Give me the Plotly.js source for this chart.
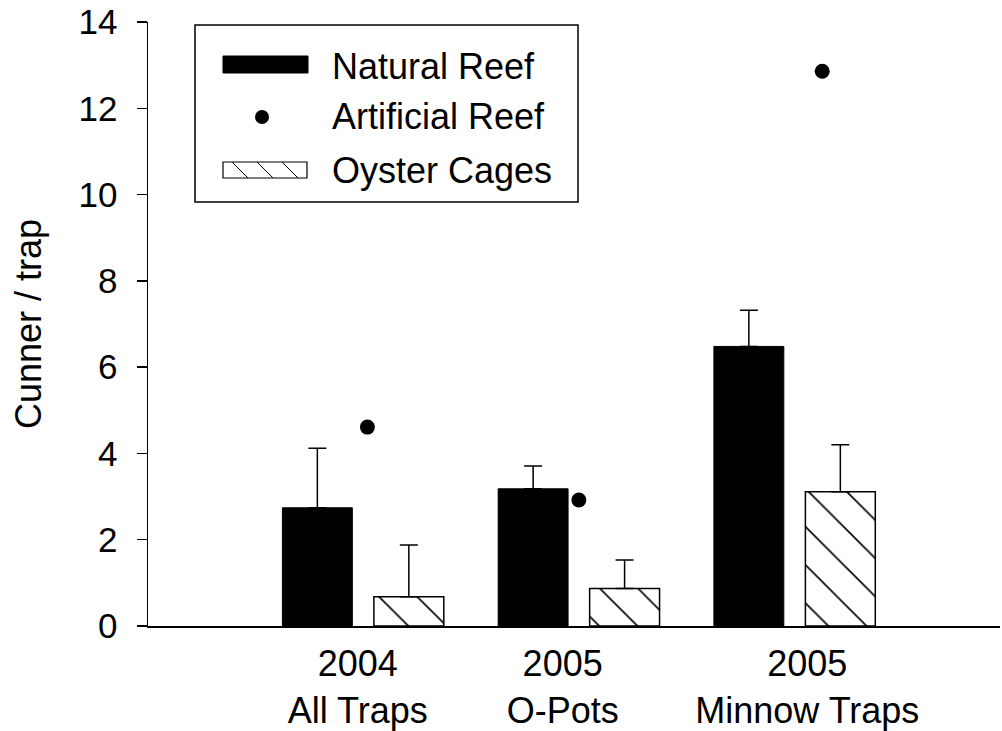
<!DOCTYPE html>
<html>
<head>
<meta charset="utf-8">
<script src="https://cdn.plot.ly/plotly-3.0.1.min.js"></script>
<style>html,body{margin:0;padding:0;background:#fff;}#chart{width:1002px;height:731px;}</style>
</head>
<body>
<div id="chart"></div>
<script>
// ---- data ----
var categories = ["2004<br>All Traps", "2005<br>O-Pots", "2005<br>Minnow Traps"];
var groupIndex = [0, 1, 2];
var naturalReef = [2.74, 3.18, 6.48];
var naturalReefErr = [1.38, 0.53, 0.84];
var oysterCages = [0.68, 0.87, 3.11];
var oysterCagesErr = [1.20, 0.66, 1.09];
var artificialReef = [4.61, 2.92, 12.86];
var artificialReefX = [0.02, 1.0, 2.128];
var tickPositions = [-0.025, 0.925, 2.059];
var yTicks = [0, 2, 4, 6, 8, 10, 12, 14];
var seriesNames = ["Natural Reef", "Artificial Reef", "Oyster Cages"];

// ---- layout constants ----
var BAR_OFFSET = 0.212, BAR_W = 0.324;
var FONT = "Liberation Sans, Arial, sans-serif";
var W = 1002, H = 731, ML = 148, MR = 2, MT = 22, MB = 105;
var PW = W - ML - MR, PH = H - MT - MB;
function px(x) { return (x - ML) / PW; }
function py(y) { return (H - MB - y) / PH; }

var traces = [
  {
    type: "bar", name: seriesNames[0],
    x: groupIndex.map(function (i) { return i - BAR_OFFSET; }),
    y: naturalReef, width: BAR_W,
    marker: { color: "#000", line: { color: "#000", width: 1 } },
    error_y: { type: "data", symmetric: false, array: naturalReefErr,
               arrayminus: naturalReef.map(function () { return 0; }),
               color: "#000", thickness: 1.5, width: 9 },
    showlegend: false
  },
  {
    type: "bar", name: seriesNames[2],
    x: groupIndex.map(function (i) { return i + BAR_OFFSET; }),
    y: oysterCages, width: BAR_W,
    marker: { color: "#fff", line: { color: "#000", width: 1.5 },
              pattern: { shape: "\\", size: 27, solidity: 0.06, fgcolor: "#000", bgcolor: "#fff" } },
    error_y: { type: "data", symmetric: false, array: oysterCagesErr,
               arrayminus: oysterCages.map(function () { return 0; }),
               color: "#000", thickness: 1.5, width: 9 },
    showlegend: false
  },
  {
    type: "scatter", mode: "markers", name: seriesNames[1],
    x: artificialReefX, y: artificialReef,
    marker: { color: "#000", size: 15 },
    showlegend: false
  }
];

// ---- hand-drawn legend ----
var shapes = [];
shapes.push({ type: "rect", xref: "paper", yref: "paper",
  x0: px(195), x1: px(578), y0: py(202), y1: py(25),
  line: { color: "#000", width: 1.5 }, fillcolor: "rgba(0,0,0,0)" });
shapes.push({ type: "rect", xref: "paper", yref: "paper",
  x0: px(223), x1: px(308), y0: py(73), y1: py(56),
  line: { color: "#000", width: 1 }, fillcolor: "#000" });
shapes.push({ type: "circle", xref: "paper", yref: "paper",
  x0: px(262 - 7), x1: px(262 + 7), y0: py(117 + 7), y1: py(117 - 7),
  line: { color: "#000", width: 0 }, fillcolor: "#000" });
var hx0 = 223, hx1 = 307, hy0 = 162, hy1 = 178;
shapes.push({ type: "rect", xref: "paper", yref: "paper",
  x0: px(hx0), x1: px(hx1), y0: py(hy1), y1: py(hy0),
  line: { color: "#000", width: 1.2 }, fillcolor: "#fff" });
for (var s = hx0 - 16; s < hx1; s += 25) {
  var xa = s, ya = hy0, xb = s + 16, yb = hy1;
  if (xa < hx0) { ya = hy0 + (hx0 - xa); xa = hx0; }
  if (xb > hx1) { yb = hy1 - (xb - hx1); xb = hx1; }
  if (xb <= xa) continue;
  shapes.push({ type: "line", xref: "paper", yref: "paper",
    x0: px(xa), y0: py(ya), x1: px(xb), y1: py(yb),
    line: { color: "#000", width: 1 } });
}
var annotations = [
  { text: seriesNames[0], y: py(66) },
  { text: seriesNames[1], y: py(117) },
  { text: seriesNames[2], y: py(170) }
].map(function (a) {
  return { text: a.text, xref: "paper", yref: "paper", x: px(330), y: a.y,
           xanchor: "left", yanchor: "middle", showarrow: false,
           font: { family: FONT, size: 36, color: "#000" } };
});

var layout = {
  width: W, height: H,
  margin: { l: ML, r: MR, t: MT, b: MB, pad: 0 },
  paper_bgcolor: "#fff", plot_bgcolor: "#fff",
  showlegend: false,
  font: { family: FONT, color: "#000" },
  xaxis: {
    range: [-0.997, 2.952], showgrid: false, zeroline: false,
    showline: true, linecolor: "#000", linewidth: 2,
    ticks: "", tickvals: tickPositions, ticktext: categories,
    ticklabelstandoff: 5,
    tickfont: { family: FONT, size: 36, color: "#000" }
  },
  yaxis: {
    range: [0, 14], showgrid: false, zeroline: false,
    showline: true, linecolor: "#000", linewidth: 1.5,
    ticks: "outside", ticklen: 10, tickwidth: 1.5, tickcolor: "#000",
    tickvals: yTicks, ticktext: yTicks.map(String),
    ticklabelstandoff: 12,
    tickfont: { family: FONT, size: 35, color: "#000" },
    title: { text: "Cunner / trap", font: { family: FONT, size: 36, color: "#000" }, standoff: 26 }
  },
  shapes: shapes,
  annotations: annotations
};

Plotly.newPlot("chart", traces, layout, { staticPlot: true, displayModeBar: false });
</script>
</body>
</html>
